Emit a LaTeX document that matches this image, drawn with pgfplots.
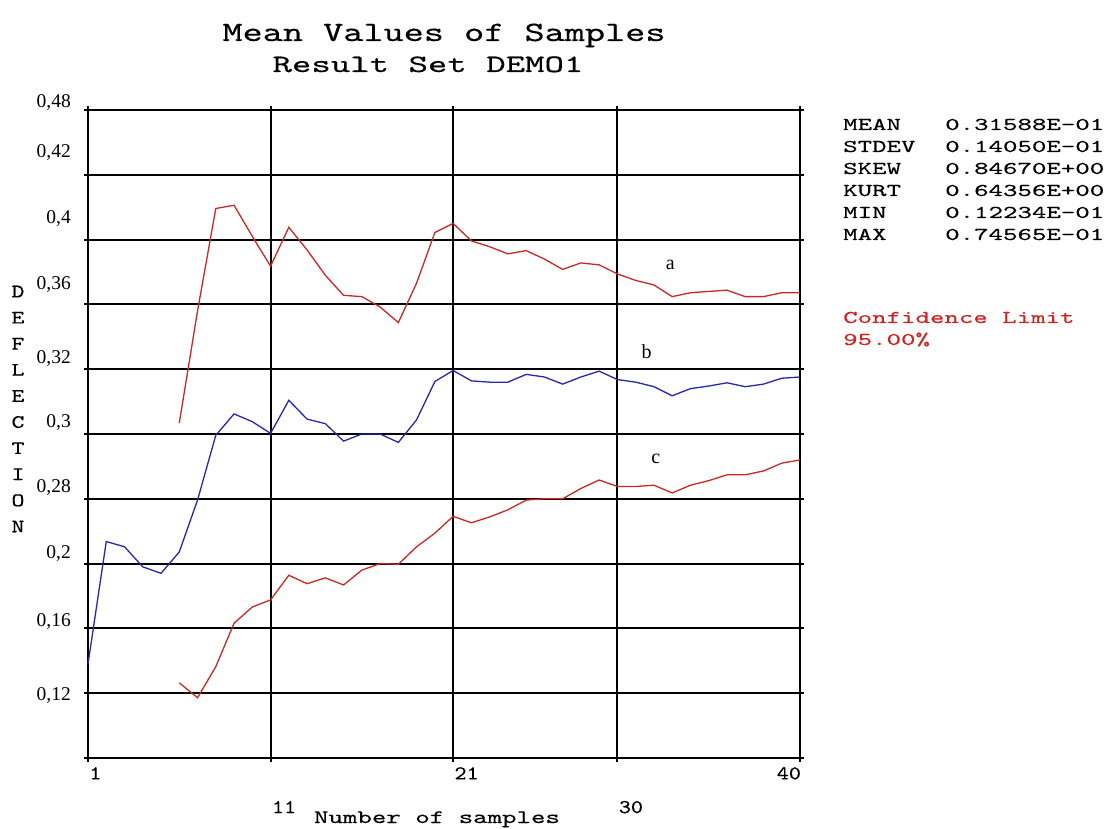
\documentclass[border=0pt]{standalone}
\usepackage{pgfplots}
\pgfplotsset{compat=1.18}
\usepackage{fontspec}
\setmainfont{Liberation Serif}
\setmonofont[FakeBold=0.3]{lmmono10-regular.otf}
\usepackage{graphicx}

\definecolor{redline}{RGB}{200,40,40}
\definecolor{blueline}{RGB}{40,40,170}
\definecolor{conf}{RGB}{205,35,35}

% mono text, stretched sideways like the old plotter font
\newcommand{\mono}[3]{\scalebox{#2}[1]{\fontsize{#1}{#1}\selectfont\ttfamily #3}}

% y values are grid positions (0 = bottom line, 10 = top line)
\pgfplotstableread{
x y
6 5.17
7 6.90
8 8.48
9 8.53
10 8.05
11 7.59
12 8.19
13 7.84
14 7.45
15 7.14
16 7.12
17 6.96
18 6.72
19 7.33
20 8.11
21 8.25
22 7.98
23 7.89
24 7.78
25 7.83
26 7.70
27 7.54
28 7.64
29 7.61
30 7.47
31 7.37
32 7.30
33 7.12
34 7.18
35 7.20
36 7.22
37 7.12
38 7.12
39 7.18
40 7.18
}\seriesa

\pgfplotstableread{
x y
1 1.45
2 3.34
3 3.26
4 2.95
5 2.85
6 3.18
7 3.98
8 4.98
9 5.31
10 5.19
11 5.01
12 5.52
13 5.23
14 5.16
15 4.89
16 5.00
17 5.00
18 4.87
19 5.22
20 5.81
21 5.98
22 5.82
23 5.80
24 5.80
25 5.92
26 5.88
27 5.77
28 5.88
29 5.97
30 5.84
31 5.80
32 5.73
33 5.59
34 5.70
35 5.74
36 5.79
37 5.73
38 5.77
39 5.86
40 5.88
}\seriesb

\pgfplotstableread{
x y
6 1.16
7 0.93
8 1.41
9 2.08
10 2.33
11 2.44
12 2.82
13 2.69
14 2.78
15 2.67
16 2.90
17 3.00
18 2.99
19 3.26
20 3.47
21 3.73
22 3.63
23 3.72
24 3.83
25 3.98
26 4.00
27 4.00
28 4.16
29 4.29
30 4.19
31 4.19
32 4.21
33 4.09
34 4.21
35 4.28
36 4.37
37 4.37
38 4.43
39 4.55
40 4.60
}\seriesc

\begin{document}
\begin{tikzpicture}[x=1pt,y=1pt]
\useasboundingbox (-88,-70) rectangle (1017,758);
\begin{axis}[
  at={(0,0)}, anchor=south west,
  scale only axis, width=712pt, height=648pt,
  xmin=1, xmax=40, ymin=0, ymax=10,
  axis line style={black, line width=1.9pt},
  tick style={black, line width=1.9pt},
  tick align=outside, major tick length=4pt,
  grid style={black, line width=1.9pt},
  xmajorgrids, ymajorgrids,
  xtick={1,11,21,30},
  xticklabels={1,{\strut\\11},21,{\strut\\30}},
  xticklabel style={anchor=north west, align=left, xscale=1.18,
    font=\fontsize{19.5}{27}\selectfont\ttfamily, inner sep=0pt, xshift=1pt, yshift=-5pt},
  extra x ticks={40}, extra x tick labels={40},
  extra x tick style={grid=none, xticklabel style={anchor=north east, xshift=0pt}},
  ytick={0,1,...,10}, yticklabels={},
  yticklabel style={anchor=east, inner sep=0pt, xshift=-17pt,
      font=\fontsize{19.5}{20}\selectfont},
  extra y ticks={0.97,2.10,3.16,4.17,5.17,6.17,7.30,8.33,9.34},
  extra y tick labels={{0,12},{0,16},{0,2},{0,28},{0,3},{0,32},{0,36},{0,4},{0,42}},
  extra y tick style={grid=none, major tick length=0pt},
  clip=false,
]
\addplot[redline, line width=1.3pt] table {\seriesa};
\addplot[blueline, line width=1.3pt] table {\seriesb};
\addplot[redline, line width=1.3pt] table {\seriesc};
\node[font=\fontsize{20}{20}\selectfont] at (axis cs:32.9,7.61) {a};
\node[font=\fontsize{20}{20}\selectfont] at (axis cs:31.6,6.27) {b};
\node[font=\fontsize{20}{20}\selectfont] at (axis cs:32.1,4.62) {c};
\end{axis}

% top tick label sits above the last grid line
\node[anchor=east, inner sep=0pt, font=\fontsize{19.5}{20}\selectfont] at (-17,655) {0,48};

% titles
\node[anchor=base] at (356,717) {\mono{28}{1.37}{Mean Values of Samples}};
\node[anchor=base] at (340,686) {\mono{25}{1.48}{Result Set DEMO1}};

% axis label
\node[anchor=base] at (349,-65) {\mono{19}{1.45}{Number of samples}};
\node[align=center, font=\fontsize{19}{26.1}\selectfont\ttfamily, xscale=1.3]
  at (-70,349) {D\\E\\F\\L\\E\\C\\T\\I\\O\\N};

% statistics panel
\begin{scope}[every node/.style={anchor=base west, inner sep=0pt}]
\node at (755,628) {\mono{18}{1.53}{MEAN}};
\node at (755,606) {\mono{18}{1.53}{STDEV}};
\node at (755,584) {\mono{18}{1.53}{SKEW}};
\node at (755,562) {\mono{18}{1.53}{KURT}};
\node at (755,540) {\mono{18}{1.53}{MIN}};
\node at (755,518) {\mono{18}{1.53}{MAX}};
\node at (857,628) {\mono{18}{1.53}{0.31588E-01}};
\node at (857,606) {\mono{18}{1.53}{0.14050E-01}};
\node at (857,584) {\mono{18}{1.53}{0.84670E+00}};
\node at (857,562) {\mono{18}{1.53}{0.64356E+00}};
\node at (857,540) {\mono{18}{1.53}{0.12234E-01}};
\node at (857,518) {\mono{18}{1.53}{0.74565E-01}};
\node[text=conf] at (755,435) {\mono{18}{1.53}{Confidence Limit}};
\node[text=conf] at (755,413) {\mono{18}{1.53}{95.00\%}};
\end{scope}
\end{tikzpicture}
\end{document}
